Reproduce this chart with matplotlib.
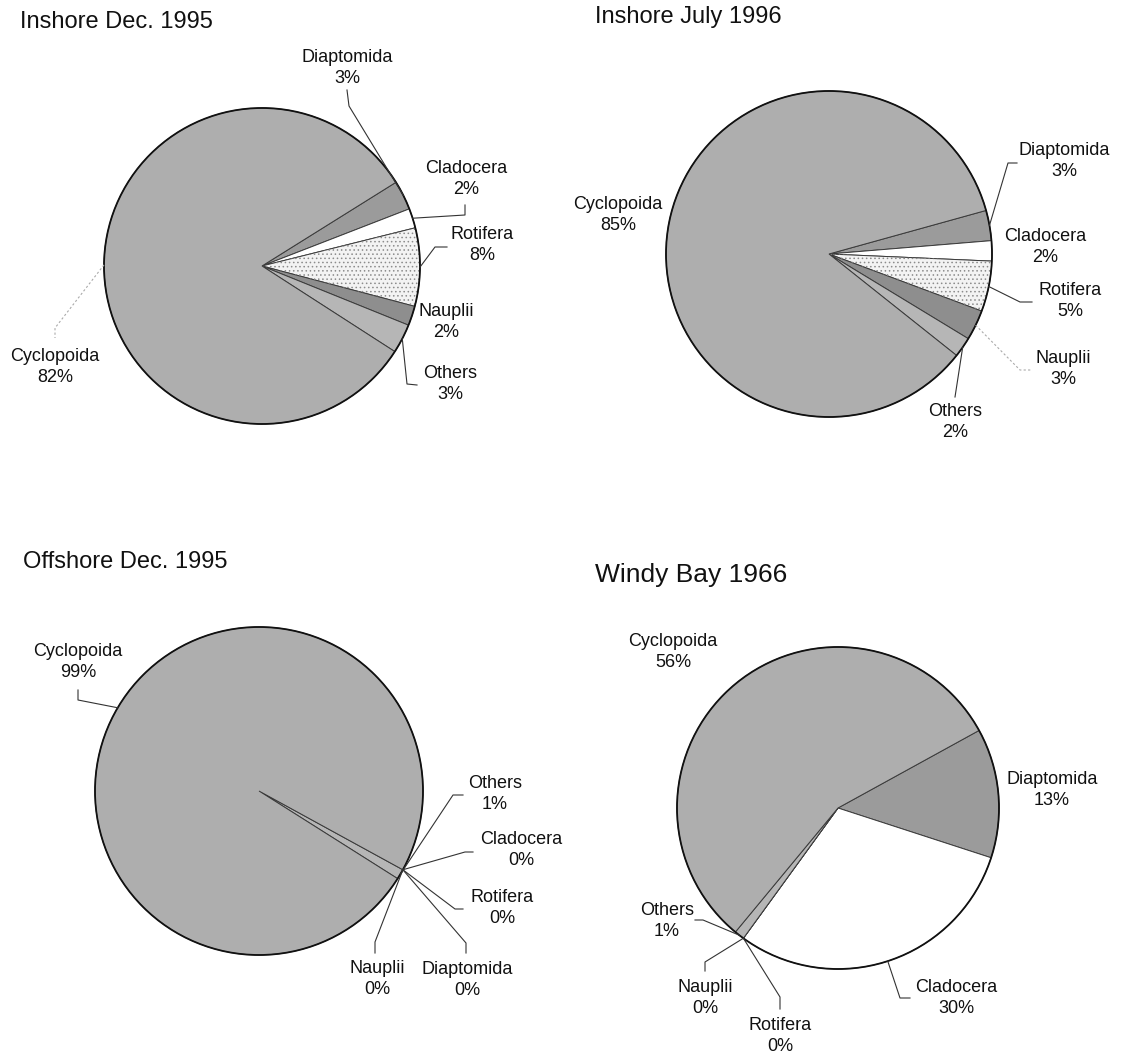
import matplotlib
matplotlib.use("Agg")
import numpy as np
import matplotlib.pyplot as plt
from matplotlib.patches import Wedge, Circle

# 分類（時計回りの並び）
categories = ["Diaptomida", "Cladocera", "Rotifera", "Nauplii", "Others", "Cyclopoida"]

# 各地点の組成（%）
inshoreDec95 = [3, 2, 8, 2, 3, 82]
inshoreJul96 = [3, 2, 5, 3, 2, 85]
offshoreDec95 = [0, 0, 0, 0, 1, 99]
windyBay66 = [13, 30, 0, 0, 1, 56]

titles = ["Inshore Dec. 1995", "Inshore July 1996", "Offshore Dec. 1995", "Windy Bay 1966"]

W, H = 1125, 1059


# 設定値（座標は画像の左上原点、y下向き）
class Settings:
    font = ["Liberation Sans", "DejaVu Sans"]

    slice_colors = {
        "Diaptomida": "#9b9b9b",
        "Cladocera": "#ffffff",
        "Rotifera": "#f3f3f3",
        "Nauplii": "#8e8e8e",
        "Others": "#b6b6b6",
        "Cyclopoida": "#aeaeae",
    }

    # 円の中心・半径・開始角、タイトル位置、ラベル位置と引き出し線
    pies = [
        {
            "values": inshoreDec95, "title": titles[0],
            "center": (262, 266), "radius": 158, "start": 32,
            "title_pos": (20, 22), "title_size": 17,
            "labels": {
                "Diaptomida": ((347, 68), [(349, 106), (347, 90)]),
                "Cladocera": ((466, 179), [(465, 215), (465, 205)]),
                "Rotifera": ((482, 245), [(435, 247), (447, 247)]),
                "Nauplii": ((446, 322), []),
                "Others": ((450, 384), [(407, 384), (417, 385)]),
                "Cyclopoida": ((55, 367), [(55, 328), (55, 338)], "faint"),
            },
        },
        {
            "values": inshoreJul96, "title": titles[1],
            "center": (829, 254), "radius": 163, "start": 15.5,
            "title_pos": (595, 17), "title_size": 17,
            "labels": {
                "Diaptomida": ((1064, 161), [(1008, 163), (1017, 163)]),
                "Cladocera": ((1045, 247), []),
                "Rotifera": ((1070, 301), [(1020, 302), (1032, 302)]),
                "Nauplii": ((1063, 369), [(1020, 370), (1032, 370)], "faint"),
                "Others": ((955, 422), [(955, 397)]),
                "Cyclopoida": ((618, 215), []),
            },
        },
        {
            "values": offshoreDec95, "title": titles[2],
            "center": (259, 791), "radius": 164, "start": -28.7,
            "title_pos": (23, 562), "title_size": 17,
            "labels": {
                "Others": ((495, 794), [(453, 795), (463, 795)]),
                "Cladocera": ((521, 850), [(465, 852), (473, 852)]),
                "Rotifera": ((502, 908), [(455, 909), (463, 909)]),
                "Diaptomida": ((467, 980), [(466, 943), (466, 953)]),
                "Nauplii": ((377, 979), [(375, 942), (375, 953)]),
                "Cyclopoida": ((78, 662), [(78, 700), (78, 690)]),
            },
        },
        {
            "values": windyBay66, "title": titles[3],
            "center": (838, 808), "radius": 161, "start": 28.8,
            "title_pos": (595, 575), "title_size": 19,
            "labels": {
                "Cyclopoida": ((673, 652), []),
                "Diaptomida": ((1052, 790), []),
                "Cladocera": ((956, 998), [(900, 998), (910, 998)]),
                "Rotifera": ((780, 1036), [(780, 997), (780, 1009)]),
                "Nauplii": ((705, 998), [(705, 962), (705, 971)]),
                "Others": ((667, 921), [(703, 920), (695, 920)]),
            },
        },
    ]


def toData(pt):
    """画像座標 → データ座標（y上向き）"""
    return pt[0], H - pt[1]


def drawPie(ax, cfg):
    """円グラフ1枚分の描画"""
    cx, cy = toData(cfg["center"])
    r = cfg["radius"]
    colors = [Settings.slice_colors[c] for c in categories]

    wedges, _ = ax.pie(cfg["values"], colors=colors, center=(cx, cy), radius=r,
                       startangle=cfg["start"], counterclock=False, frame=True,
                       wedgeprops={"edgecolor": "#3a3a3a", "linewidth": 0.7})

    # Rotifera は点描パターン
    rot = wedges[categories.index("Rotifera")]
    ax.add_patch(Wedge(rot.center, rot.r, rot.theta1, rot.theta2, fill=False,
                       hatch="....", edgecolor="#8c8c8c", linewidth=0))

    # 外周
    ax.add_patch(Circle((cx, cy), r, fill=False, edgecolor="#111111", linewidth=1.3))

    # ラベルと引き出し線
    for name, spec in cfg["labels"].items():
        textPos, leader = spec[0], spec[1]
        faint = len(spec) > 2
        i = categories.index(name)
        w = wedges[i]
        tx, ty = toData(textPos)
        ax.text(tx, ty, f"{name}\n{cfg['values'][i]}%", ha="center", va="center",
                fontsize=13, linespacing=1.25, color="#111111", family=Settings.font)
        if leader:
            mid = np.radians((w.theta1 + w.theta2) / 2)
            xs = [cx + r * np.cos(mid)]
            ys = [cy + r * np.sin(mid)]
            for p in leader:
                px, py = toData(p)
                xs.append(px)
                ys.append(py)
            ax.plot(xs, ys, color="#aaaaaa" if faint else "#333333",
                    linewidth=0.8, linestyle=(0, (2, 2)) if faint else "-")

    # タイトル
    tx, ty = toData(cfg["title_pos"])
    ax.text(tx, ty, cfg["title"], ha="left", va="center", fontsize=cfg["title_size"],
            color="#111111", family=Settings.font)


def main():
    plt.rcParams["hatch.linewidth"] = 0.6
    fig = plt.figure(figsize=(W / 100, H / 100), dpi=100)
    ax = fig.add_axes([0, 0, 1, 1])

    for cfg in Settings.pies:
        drawPie(ax, cfg)

    ax.set_aspect("equal")
    ax.set_xlim(0, W)
    ax.set_ylim(0, H)
    ax.axis("off")

    fig.savefig("out.png", dpi=100, facecolor="white")
    plt.close(fig)


if __name__ == "__main__":
    main()
